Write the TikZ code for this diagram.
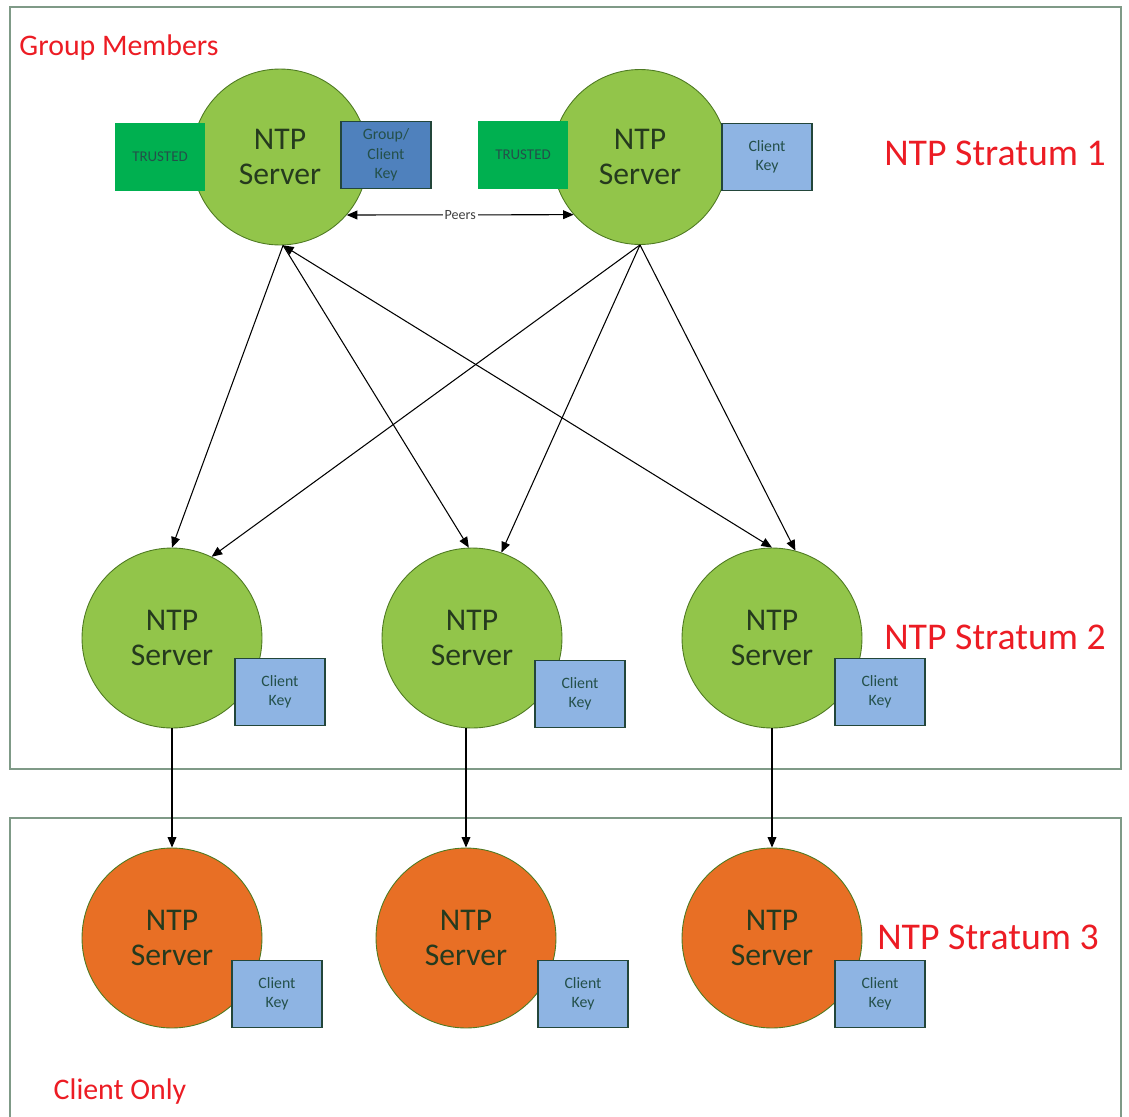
\documentclass[tikz,border=0pt]{standalone}
\usepackage{fontspec}
\setmainfont{Carlito}
\usepackage{xcolor}
\usetikzlibrary{arrows.meta, positioning}

\definecolor{srvgreen}{HTML}{92C54A}
\definecolor{srvedge}{HTML}{4E7A22}
\definecolor{cliorange}{HTML}{E86F25}
\definecolor{trustgreen}{HTML}{00B050}
\definecolor{keydark}{HTML}{4F81BD}
\definecolor{keylight}{HTML}{8EB4E3}
\definecolor{keyedge}{HTML}{23463A}
\definecolor{txtdark}{HTML}{253A1E}
\definecolor{keytxt}{HTML}{24504A}
\definecolor{framegray}{HTML}{7F9A87}
\definecolor{labelred}{HTML}{EC1C24}

\begin{document}
\begin{tikzpicture}[
        x=0.02cm, y=-0.02cm,
        server/.style={circle, draw=srvedge, line width=0.5pt, fill=#1,
                       minimum size=3.6cm, inner sep=0pt, align=center,
                       font=\fontsize{18}{20}\selectfont, text=txtdark},
        server/.default=srvgreen,
        key/.style={rectangle, draw=keyedge, line width=0.8pt, fill=#1,
                    minimum width=1.8cm, minimum height=1.34cm, inner sep=1pt,
                    align=center, font=\fontsize{9}{11}\selectfont, text=keytxt},
        key/.default=keylight,
        trusted/.style={rectangle, fill=trustgreen, minimum width=1.82cm,
                        minimum height=1.36cm, font=\fontsize{8.5}{10}\selectfont,
                        text=keytxt},
        frame/.style={draw=framegray, line width=1pt},
        stratum/.style={font=\fontsize{21.5}{24}\selectfont, text=labelred},
        group/.style={font=\fontsize{17}{19}\selectfont, text=labelred},
        arrow/.style={-{Triangle[length=6pt, width=5pt]}, line width=0.6pt},
        biarrow/.style={{Triangle[length=6pt, width=5pt]}-{Triangle[length=6pt, width=5pt]}, line width=0.6pt}
    ]
        \useasboundingbox (0,0) rectangle (1129,1116);

        % Frames
        \draw[frame] (10,7) rectangle (1121,769);
        \draw[frame] (10,1130) -- (10,818) -- (1121,818) -- (1121,1130);

        % Labels
        \node[group] (members) at (119,48) {Group Members};
        \node[group] (clientonly) at (120,1092) {Client Only};
        \node[stratum] (lvl1) at (995,153) {NTP Stratum 1};
        \node[stratum] (lvl2) at (995,637) {NTP Stratum 2};
        \node[stratum] (lvl3) at (988,937) {NTP Stratum 3};

        % Stratum 1
        \node[server, minimum size=3.52cm] (s1a) at (280,157) {NTP\\Server};
        \node[server, minimum size=3.5cm] (s1b) at (640,157) {NTP\\Server};
        \node[trusted] (t1a) at (160,157) {TRUSTED};
        \node[key=keydark] (k1a) at (386,155) {Group/\\Client\\Key};
        \node[trusted] (t1b) at (523,155) {TRUSTED};
        \node[key] (k1b) at (767,157) {Client\\Key};

        % Stratum 2
        \node[server] (s2a) at (172,638) {NTP\\Server};
        \node[server] (s2b) at (472,638) {NTP\\Server};
        \node[server] (s2c) at (772,638) {NTP\\Server};
        \node[key] (k2a) at (280,692) {Client\\Key};
        \node[key] (k2b) at (580,694) {Client\\Key};
        \node[key] (k2c) at (880,692) {Client\\Key};

        % Stratum 3
        \node[server=cliorange] (s3a) at (172,938) {NTP\\Server};
        \node[server=cliorange] (s3b) at (466,938) {NTP\\Server};
        \node[server=cliorange] (s3c) at (772,938) {NTP\\Server};
        \node[key] (k3a) at (277,994) {Client\\Key};
        \node[key] (k3b) at (583,994) {Client\\Key};
        \node[key] (k3c) at (880,994) {Client\\Key};

        % Arrows
        \draw[biarrow] (s1a.-41) -- node[fill=white, inner sep=1pt,
            font=\fontsize{8}{9}\selectfont, text=black!75] (peers) {Peers} (s1b.221);
        \draw[arrow] (s1a.272) -- (s2a.north);
        \draw[arrow] (s1a.272) -- (s2b.92);
        \draw[biarrow] (s1a.272) -- (s2c.north);
        \draw[arrow] (s1b.south) -- (s2a.64);
        \draw[arrow] (s1b.south) -- (s2b.71);
        \draw[arrow] (s1b.south) -- (s2c.75);
        \draw[arrow] (s2a.south) -- (s3a.north);
        \draw[arrow] (s3b.north |- s2b.south) -- (s3b.north);
        \draw[arrow] (s2c.south) -- (s3c.north);
    \end{tikzpicture}
\end{document}
